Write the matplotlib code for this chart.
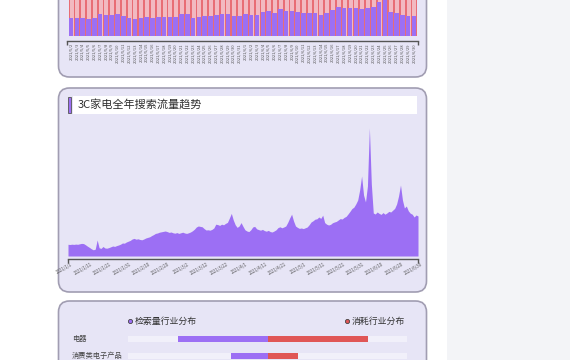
import datetime as dt
import matplotlib
matplotlib.use('Agg')
import matplotlib.pyplot as plt
from matplotlib.patches import FancyBboxPatch, Rectangle
from matplotlib.transforms import ScaledTranslation, blended_transform_factory

plt.rcParams['font.family'] = ['Noto Sans CJK SC', 'DejaVu Sans']

# ---- data ----
# top chart: daily search share (purple) over consumption (red, runs off the top)
bar_dates = [(dt.date(2021, 5, 2) + dt.timedelta(days=i)) for i in range(60)]
bar_labels = [f'{d.year}/{d.month}/{d.day}' for d in bar_dates]
search_bar = [53, 55, 54, 51, 53, 65, 62, 62, 65, 60, 54, 51, 54, 58, 54, 58, 58, 56, 56,
              67, 65, 53, 58, 60, 60, 62, 66, 66, 60, 60, 65, 64, 64, 71, 74, 68, 80, 74, 74,
              72,
              68, 70, 70, 64, 68, 78, 86, 83, 84, 84, 81, 84, 88, 101, 112, 72, 68, 63, 61, 61]
consume_bar = [170, 182, 176, 168, 190, 174, 186, 178, 172, 184, 192, 166, 180, 176, 188, 170,
               174, 182, 178, 186, 172, 168, 184, 190, 176, 180, 174, 186, 170, 182, 178, 188,
               176, 172, 184, 180, 190, 174, 168, 186, 182, 176, 170, 184, 188, 178, 172, 186,
               180, 174, 190, 182, 176, 184, 196, 178, 172, 186, 180, 174]

# middle chart: daily search traffic, 2021/1/1 - 2021/6/30
trend_start = dt.date(2021, 1, 1)
trend = [117, 115, 118, 116, 119, 117, 122, 126, 124, 112, 98, 86, 72, 62, 68, 160, 82, 76, 95, 80,
         78, 84, 92, 100, 96, 104, 110, 118, 130, 128, 140, 148, 156, 170, 176, 168, 172, 165, 162, 170,
         180, 186, 192, 204, 214, 226, 230, 238, 242, 246, 250, 244, 236, 240, 232, 228, 234, 226, 232, 238,
         230, 226, 232, 240, 252, 268, 290, 300, 296, 292, 274, 260, 262, 258, 266, 280, 318, 314, 306, 318,
         312, 326, 336, 380, 426, 360, 312, 286, 300, 334, 296, 262, 250, 244, 262, 290, 296, 272, 264, 258,
         266, 254, 248, 256, 244, 240, 250, 262, 284, 292, 282, 290, 300, 336, 380, 418, 350, 300, 286, 276,
         280, 274, 282, 290, 312, 340, 352, 368, 372, 390, 376, 408, 334, 318, 310, 316, 332, 340, 346, 360,
         374, 370, 386, 396, 420, 446, 474, 488, 520, 560, 660, 800, 610, 540, 700, 1280, 720, 430, 420, 440,
         426, 416, 434, 418, 430, 446, 440, 458, 476, 520, 600, 710, 560, 480, 500, 452, 428, 418, 390, 410,
         400]
trend_labels = [f'{d.year}/{d.month}/{d.day}'
                for d in (trend_start + dt.timedelta(days=i) for i in range(len(trend)))]

# bottom chart: industry distribution (%)
industries = ['电器', '消费类电子产品']
search_share = [32, 13]
consume_share = [36, 11]

PURPLE = '#9c6ff4'
RED = '#e05656'
PANEL = '#e7e5f6'
EDGE = '#a19db2'

W, H = 570, 360
fig = plt.figure(figsize=(W / 100, H / 100), dpi=100)
fig.patch.set_facecolor('white')


def px_axes(x0, y0, x1, y1, z=2):
    ax = fig.add_axes([x0 / W, 1 - y1 / H, (x1 - x0) / W, (y1 - y0) / H])
    ax.set_zorder(z)
    ax.patch.set_alpha(0)
    return ax


# background layer in pixel coords
bg = px_axes(0, 0, W, H, z=0)
bg.set_xlim(0, W)
bg.set_ylim(H, 0)
bg.axis('off')
bg.add_patch(Rectangle((447, 0), 123, H, color='#f3f4f7', lw=0))
for y0, y1 in [(-30, 77), (88, 292), (301, 400)]:
    bg.add_patch(FancyBboxPatch((58.5, y0), 368, y1 - y0,
                                boxstyle='round,pad=0,rounding_size=11',
                                fc=PANEL, ec=EDGE, lw=1.2))

# title bar of the middle panel
bg.add_patch(Rectangle((73, 96), 344, 18, color='white', lw=0))
bg.add_patch(Rectangle((68, 97), 3, 16, fc=PURPLE, ec='#555555', lw=0.6))
bg.text(78, 105, '3C家电全年搜索流量趋势', fontsize=8.0, color='#2e2e2e', va='center', ha='left')

# ---- top: bar chart ----
ax1 = px_axes(67, -40, 418, 36)
x = list(range(len(search_bar)))
ax1.bar(x, consume_bar, width=0.86, color='#f2b9c1', edgecolor='#e86a72', lw=0.7)
ax1.bar(x, search_bar, width=0.78, color=PURPLE, lw=0)
ax1.set_xlim(-0.7, len(x) - 0.3)
ax1.set_ylim(0, 228)
for s in ['top', 'right', 'left']:
    ax1.spines[s].set_visible(False)
ax1.spines['bottom'].set_position(('outward', 3.6))
ax1.spines['bottom'].set_color('#555555')
ax1.spines['bottom'].set_linewidth(1.0)
ax1.set_yticks([])
ax1.set_xticks(x)
ax1.set_xticklabels(bar_labels, rotation=90, fontsize=3.0, color='#555555')
ax1.tick_params(axis='x', length=0, pad=1.5)
ax1.set_xticks([-0.7, len(x) - 0.3], minor=True)
ax1.tick_params(axis='x', which='minor', length=3, width=1.0, color='#555555')

# ---- middle: area chart ----
ax2 = px_axes(68, 118, 418, 256)
t = list(range(len(trend)))
ax2.fill_between(t, trend, 0, color=PURPLE, lw=0)
ax2.set_xlim(0, len(trend) - 1)
ax2.set_ylim(0, 1380)
for s in ['top', 'right', 'left']:
    ax2.spines[s].set_visible(False)
ax2.spines['bottom'].set_position(('outward', 2.2))
ax2.spines['bottom'].set_color('#555555')
ax2.spines['bottom'].set_linewidth(1.0)
ax2.set_yticks([])
ax2.set_xticks([])
lab_tr = blended_transform_factory(ax2.transData, ax2.transAxes) + \
    ScaledTranslation(3 / 100, -6 / 100, fig.dpi_scale_trans)
for i in t[::10]:
    ax2.text(i, 0, trend_labels[i], transform=lab_tr, rotation=30, fontsize=3.1,
             color='#555555', ha='right', va='top', rotation_mode='anchor', clip_on=False)
ax2.set_xticks([0, len(trend) - 1], minor=True)
ax2.tick_params(axis='x', which='minor', length=3, width=1.0, color='#555555')

# ---- bottom: diverging bars ----
bg.scatter([130], [321], s=9, color=PURPLE, edgecolors='#444444', linewidths=0.6, zorder=3)
bg.text(135, 321, '检索量行业分布', fontsize=6.4, color='#333333', va='center', ha='left')
bg.scatter([347], [321], s=9, color=RED, edgecolors='#444444', linewidths=0.6, zorder=3)
bg.text(352, 321, '消耗行业分布', fontsize=6.4, color='#333333', va='center', ha='left')
for i, name in enumerate(industries):
    bg.text(72, 339 + 17 * i, name, fontsize=5.2, color='#444444', va='center', ha='left')

ax3 = px_axes(128, 330.5, 407, 364.5)
rows = list(range(len(industries)))
ax3.barh(rows, [100] * len(rows), left=-50, height=0.36, color='#f1f0fa', lw=0)
ax3.barh(rows, [-v for v in search_share], height=0.36, color=PURPLE, lw=0)
ax3.barh(rows, consume_share, height=0.36, color=RED, lw=0)
ax3.set_xlim(-50, 50)
ax3.set_ylim(1.5, -0.5)
ax3.axis('off')

fig.savefig('out.png', dpi=100)
